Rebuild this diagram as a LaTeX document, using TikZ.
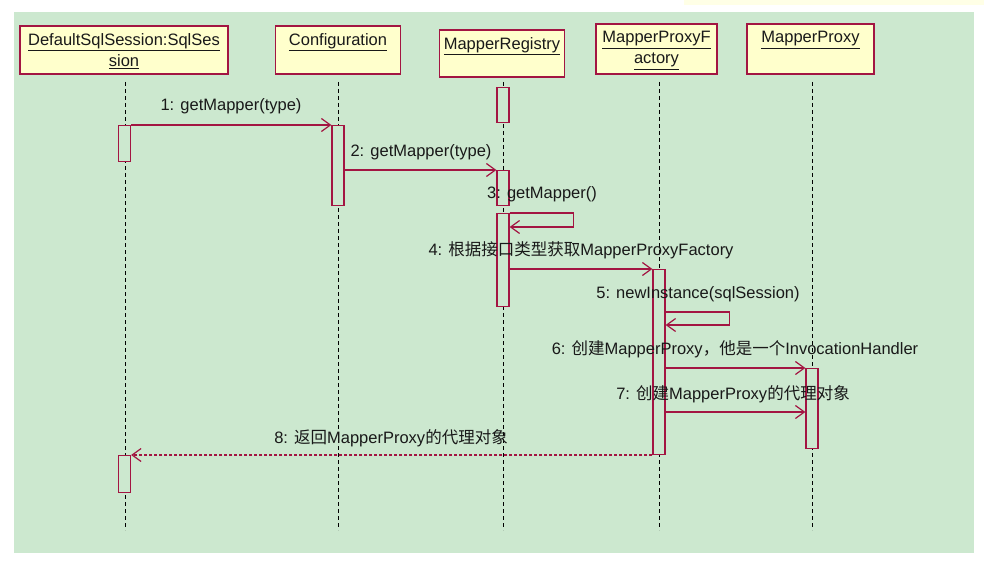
\documentclass[tikz,border=0pt]{standalone}
\usepackage{fontspec}
\setmainfont{Liberation Sans}
\newfontfamily\cjk{Noto Sans CJK SC}
\newcommand{\zh}[1]{{\cjk #1}}
\usetikzlibrary{arrows.meta,calc}
\definecolor{bgc}{RGB}{204,232,207}
\definecolor{hdr}{RGB}{255,255,204}
\definecolor{lnc}{RGB}{163,21,66}
\definecolor{strip}{RGB}{255,255,230}
\begin{document}
\begin{tikzpicture}[x=1pt,y=-1pt,
  font=\fontsize{16.5}{21}\selectfont,
  head/.style={draw=lnc, fill=hdr, line width=1.3pt, inner sep=0pt},
  htxt/.style={align=center, anchor=north, inner sep=0pt, text=black!90},
  act/.style={draw=lnc, fill=bgc, line width=1.2pt, minimum width=12pt, inner sep=0pt, anchor=north},
  lifeline/.style={dash pattern=on 4pt off 3pt, line width=0.8pt, black},
  msg/.style={draw=lnc, line width=1.2pt, -{Straight Barb[length=9pt,width=13pt]}},
  ret/.style={msg, dash pattern=on 3pt off 2pt},
  lbl/.style={text=black!90, inner sep=0pt}]
\useasboundingbox[fill=white] (0,0) rectangle (984,572);
\fill[strip] (684,0) rectangle (984,5);
\fill[bgc] (14,12) rectangle (974,553);

% heads
\node[head, minimum width=208pt, minimum height=48pt] (ds) at (124,50) {};
\node[head, minimum width=125pt, minimum height=48pt] (cf) at (338,50) {};
\node[head, minimum width=125pt, minimum height=47pt] (mr) at (502,53.5) {};
\node[head, minimum width=121pt, minimum height=50pt] (mpf) at (656.5,49) {};
\node[head, minimum width=127pt, minimum height=50pt] (mp) at (810.5,49) {};
\node[htxt] (dst) at ($(ds.north)+(0,8)$) {\underline{DefaultSqlSession:SqlSes}\\\underline{sion}};
\node[htxt] (cft) at ($(cf.north)+(0,8)$) {\underline{Configuration}};
\node[htxt] (mrt) at ($(mr.north)+(0,8)$) {\underline{MapperRegistry}};
\node[htxt] (mpft) at ($(mpf.north)+(0,8)$) {\underline{MapperProxyF}\\\underline{actory}};
\node[htxt] (mpt) at ($(mp.north)+(0,8)$) {\underline{MapperProxy}};

% lifelines
\coordinate (l1) at (125.5,82);
\coordinate (l2) at (338.5,82);
\coordinate (l3) at (503,82);
\coordinate (l4) at (659,82);
\coordinate (l5) at (812.5,82);
\foreach \c in {l1,l2,l3,l4,l5} \draw[lifeline] (\c) -- ++(0,448);

% activations
\node[act, minimum height=36pt] (ds1) at (124.5,125) {};
\node[act, minimum height=37pt] (ds2) at (124.5,455) {};
\node[act, minimum height=80pt] (cf1) at (338,125) {};
\node[act, minimum height=35pt] (mr0) at (503,87) {};
\node[act, minimum height=35pt] (mr1) at (503,170) {};
\node[act, minimum height=93pt] (mr2) at (503,213) {};
\node[act, minimum height=185pt] (mpf1) at (659,269) {};
\node[act, minimum height=80pt] (mp1) at (812,368) {};

% messages
\draw[msg] (ds1.north east) -- (cf1.north west);
\draw[msg] (cf1.east |- mr1.north) -- (mr1.north west);
\draw[msg] (mr2.north east) -- ++(64,0) -- ++(0,14) -- ++(-64,0);
\draw[msg] (mr2.east |- mpf1.north) -- (mpf1.north west);
\coordinate (m5) at ($(mpf1.north east)+(0,43)$);
\draw[msg] (m5) -- ++(64,0) -- ++(0,13) -- ++(-64,0);
\draw[msg] (mpf1.east |- mp1.north) -- (mp1.north west);
\coordinate (m7) at ($(mpf1.north east)+(0,143)$);
\draw[msg] (m7) -- (m7 -| mp1.west);
\draw[ret] (mpf1.south west |- ds2.north) -- (ds2.north east);

% labels
\node[lbl] (t1) at (231,106) {1: getMapper(type)};
\node[lbl] (t2) at (421,152) {2: getMapper(type)};
\node[lbl] (t3) at (542,194) {3: getMapper()};
\node[lbl] (t4) at (581,250) {4: \zh{根据接口类型获取}MapperProxyFactory};
\node[lbl] (t5) at (698,294) {5: newInstance(sqlSession)};
\node[lbl] (t6) at (735,349) {6: \zh{创建}MapperProxy\zh{，他是一个}InvocationHandler};
\node[lbl] (t7) at (733,394) {7: \zh{创建}MapperProxy\zh{的代理对象}};
\node[lbl] (t8) at (391,438) {8: \zh{返回}MapperProxy\zh{的代理对象}};
\end{tikzpicture}
\end{document}
